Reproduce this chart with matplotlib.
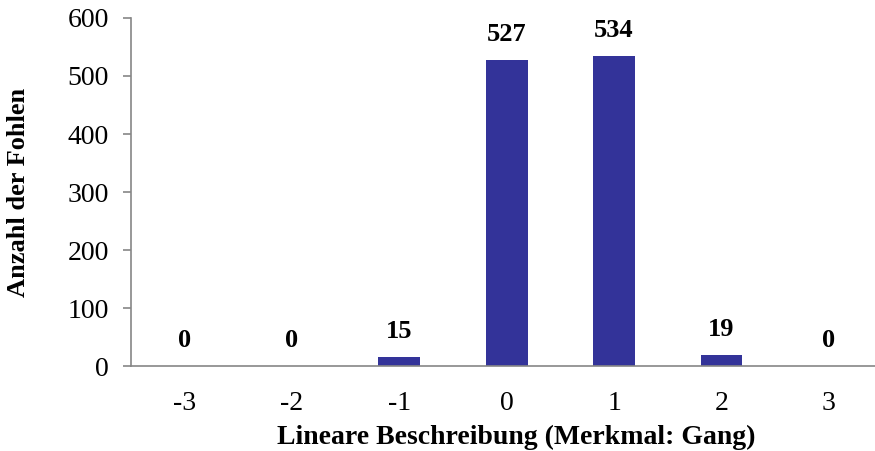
import matplotlib.pyplot as plt

categories = ['-3', '-2', '-1', '0', '1', '2', '3']
counts = [0, 0, 15, 527, 534, 19, 0]

plt.rcParams['font.family'] = ['Liberation Serif', 'DejaVu Serif']

fig = plt.figure(figsize=(8.75, 4.51), dpi=100)
ax = fig.add_axes([131 / 875, 85 / 451, 744 / 875, 348 / 451])

x = list(range(len(categories)))
bars = ax.bar(x, counts, width=0.39, color='#333399', zorder=2)

for xi, v in zip(x, counts):
    ax.annotate(str(v), (xi, v), xytext=(0, 10), textcoords='offset points',
                ha='center', va='bottom', fontsize=19, fontweight='bold')

ax.set_xlim(-0.5, 6.43)
ax.set_ylim(0, 600)
ax.set_yticks([0, 100, 200, 300, 400, 500, 600])
ax.set_xticks(x)
ax.set_xticklabels(categories)

for side in ['top', 'right']:
    ax.spines[side].set_visible(False)
for side in ['left', 'bottom']:
    ax.spines[side].set_color('#868686')
    ax.spines[side].set_linewidth(1.2)

ax.tick_params(axis='y', direction='out', length=6, width=1.2, color='#868686',
               labelsize=20, pad=10)
ax.tick_params(axis='x', length=0, labelsize=20, pad=18)

ax.set_xlabel('Lineare Beschreibung (Merkmal: Gang)', fontsize=20, fontweight='bold')
ax.set_ylabel('Anzahl der Fohlen', fontsize=19, fontweight='bold')
ax.xaxis.set_label_coords((516 - 131) / 744, -0.168)
ax.yaxis.set_label_coords((30 - 131) / 744, 0.5)

fig.savefig('out.png', dpi=100)
